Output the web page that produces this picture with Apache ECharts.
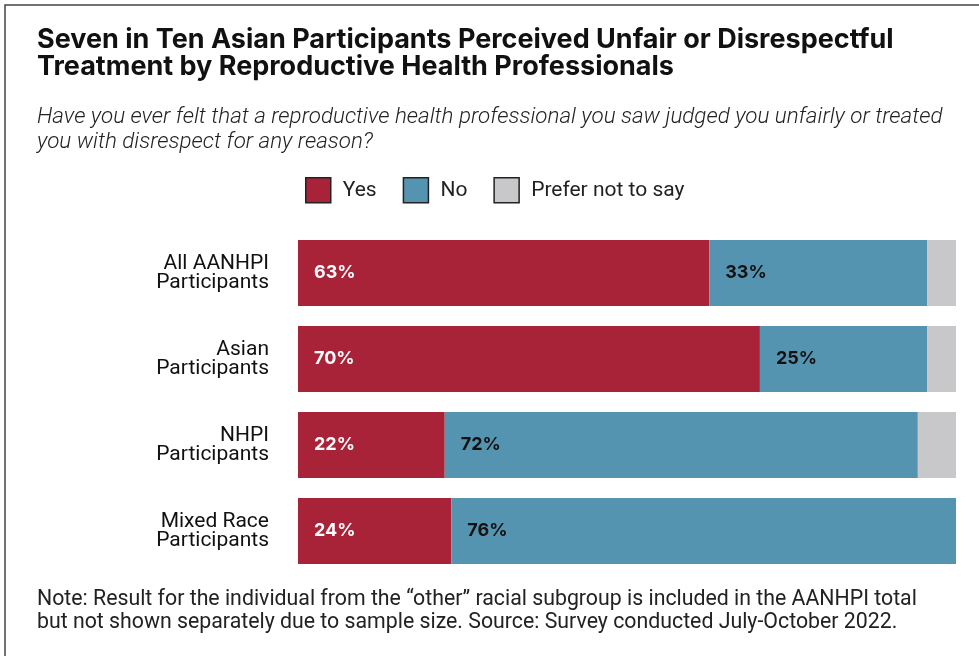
<!DOCTYPE html>
<html>
<head>
<meta charset="utf-8">
<script src="https://cdn.jsdelivr.net/npm/echarts@6/dist/echarts.min.js"></script>
<style>
  html, body { margin: 0; padding: 0; background: #fff; }
  #main { width: 979px; height: 656px; }
</style>
</head>
<body>
<div id="main"></div>
<script>
// groups, top to bottom
const groups = ['All AANHPI\nParticipants', 'Asian\nParticipants', 'NHPI\nParticipants', 'Mixed Race\nParticipants']

// shares (percent)
const yesValues = [62.5, 70.2, 22.3, 23.3]
const noValues = [33.1, 25.4, 71.9, 76.7]
const preferValues = [4.4, 4.4, 5.8, 0]

// printed labels
const yesLabels = ['63%', '70%', '22%', '24%']
const noLabels = ['33%', '25%', '72%', '76%']

const chart = echarts.init(document.getElementById('main'))

const labelFont = 'Inter'
const textFont = 'Roboto'

function seg(name, data, color, labels, labelColor) {
  return {
    name: name,
    type: 'bar',
    stack: 'all',
    barCategoryGap: '23%',
    data: data,
    itemStyle: { color: color },
    label: labels ? {
      show: true,
      position: 'insideLeft',
      distance: 16,
      color: labelColor,
      fontFamily: labelFont,
      fontWeight: 'bold',
      fontSize: 18,
      formatter: p => labels[p.dataIndex]
    } : { show: false },
    emphasis: { disabled: true }
  }
}

chart.setOption({
  animation: false,
  title: [
    {
      text: 'Seven in Ten Asian Participants Perceived Unfair or Disrespectful\nTreatment by Reproductive Health Professionals',
      left: 37, top: 26, padding: 0,
      textStyle: { fontFamily: labelFont, fontWeight: 'bold', fontSize: 27, lineHeight: 27, color: '#111' }
    },
    {
      text: 'Have you ever felt that a reproductive health professional you saw judged you unfairly or treated\nyou with disrespect for any reason?',
      left: 37, top: 105, padding: 0,
      textStyle: { fontFamily: textFont, fontStyle: 'italic', fontWeight: 300, fontSize: 22.4, lineHeight: 25, color: '#222' }
    },
    {
      text: 'Note: Result for the individual from the \u201cother\u201d racial subgroup is included in the AANHPI total\nbut not shown separately due to sample size. Source: Survey conducted July-October 2022.',
      left: 37, top: 588, padding: 0,
      textStyle: { fontFamily: textFont, fontWeight: 'normal', fontSize: 21.3, lineHeight: 23, color: '#222' }
    }
  ],
  graphic: [
    { type: 'rect', shape: { x: 5, y: 5, width: 1000, height: 700 }, style: { fill: 'none', stroke: '#444', lineWidth: 1.5 } }
  ],
  legend: {
    left: 305, top: 177, padding: 0,
    itemWidth: 25, itemHeight: 25, itemGap: 26,
    icon: 'rect',
    selectedMode: false,
    itemStyle: { borderColor: '#222', borderWidth: 1.5 },
    textStyle: { fontFamily: textFont, fontSize: 21, color: '#222', padding: [0, 0, 0, 7] },
    data: ['Yes', 'No', 'Prefer not to say']
  },
  grid: { left: 298, right: 23, top: 230, height: 344, containLabel: false },
  xAxis: { type: 'value', min: 0, max: 100, show: false },
  yAxis: {
    type: 'category',
    inverse: true,
    data: groups,
    axisLine: { show: false },
    axisTick: { show: false },
    axisLabel: { margin: 29, fontFamily: textFont, fontSize: 21, lineHeight: 19, color: '#111', align: 'right', padding: [0, 0, 8, 0] }
  },
  series: [
    seg('Yes', yesValues, '#A82238', yesLabels, '#fff'),
    seg('No', noValues, '#5594B0', noLabels, '#111'),
    seg('Prefer not to say', preferValues, '#C8C8CA', null, null)
  ]
})
</script>
</body>
</html>
